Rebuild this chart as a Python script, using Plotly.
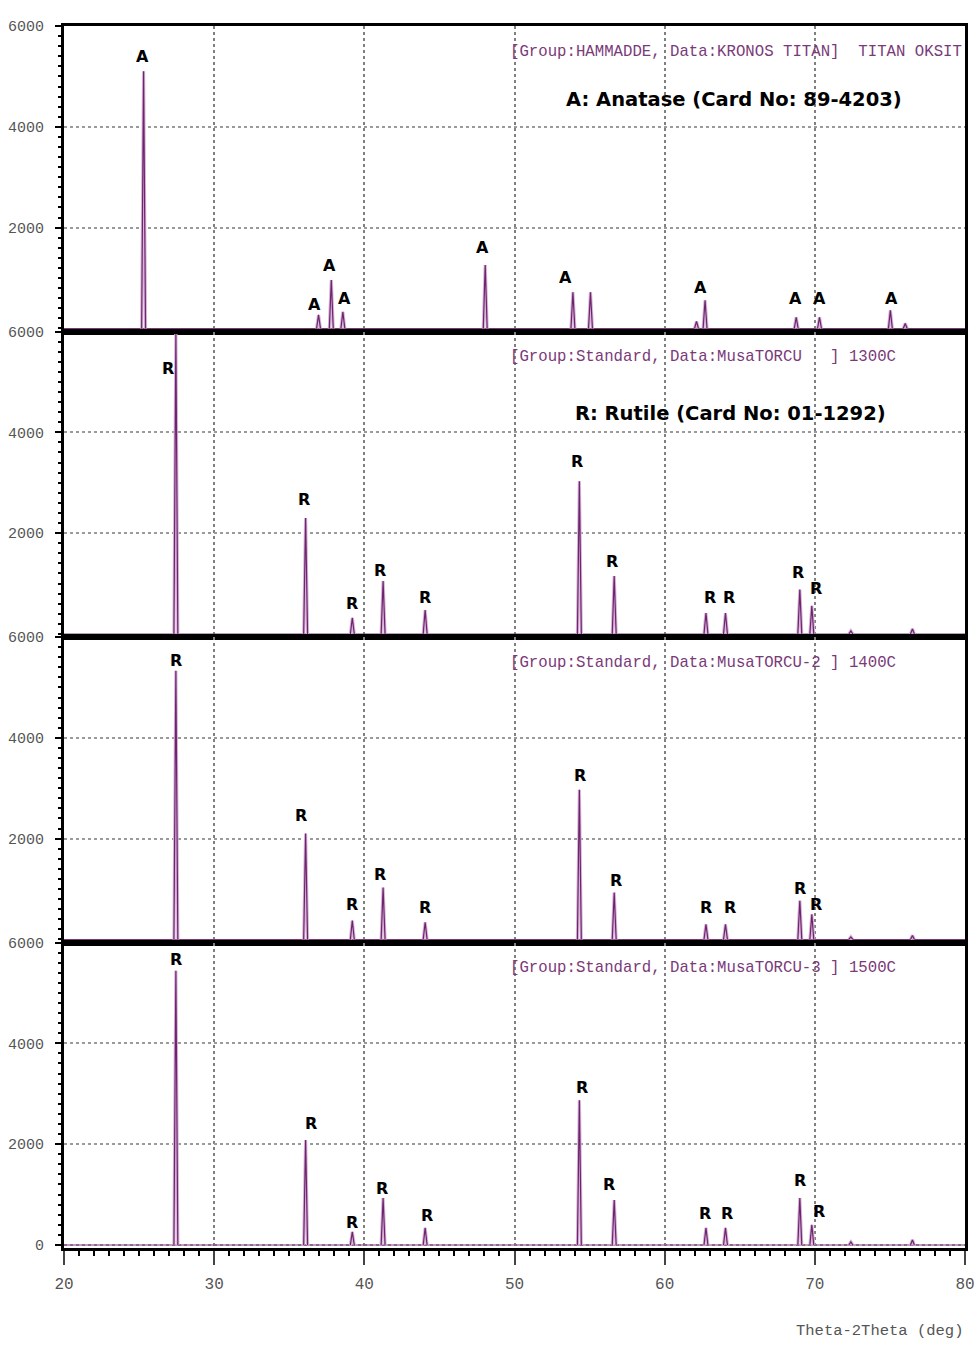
import plotly.graph_objects as go
from plotly.subplots import make_subplots

# ---------------- data ----------------
x_range = [20, 80]

panel_titles = [
    "[Group:HAMMADDE, Data:KRONOS TITAN]  TITAN OKSIT",
    "[Group:Standard, Data:MusaTORCU   ] 1300C",
    "[Group:Standard, Data:MusaTORCU-2 ] 1400C",
    "[Group:Standard, Data:MusaTORCU-3 ] 1500C",
]
card_labels = ["A: Anatase (Card No: 89-4203)", "R: Rutile (Card No: 01-1292)"]

# peak positions (2theta, deg) and intensities per panel
anatase_pos = [25.30, 36.95, 37.80, 38.57, 48.05, 53.89, 55.06, 62.12, 62.69, 68.76, 70.31, 75.03, 76.02]
anatase_int = [5100, 270, 960, 330, 1260, 720, 720, 140, 560, 220, 220, 360, 100]

rutile_pos = [27.45, 36.09, 39.20, 41.25, 44.05, 54.32, 56.64, 62.75, 64.05, 69.00, 69.80, 72.40, 76.50]
rutile_1300 = [5950, 2300, 320, 1050, 475, 3030, 1150, 415, 415, 880, 560, 60, 100]
rutile_1400 = [5330, 2100, 375, 1030, 340, 2970, 930, 300, 300, 770, 500, 50, 80]
rutile_1500 = [5440, 2080, 260, 930, 340, 2870, 890, 340, 340, 930, 400, 60, 100]

# phase-marker letters: (2theta, intensity) of label centre
labels_1 = [(25.26, 5400), (36.71, 480), (37.71, 1240), (38.71, 600), (47.90, 1600),
            (53.42, 1020), (62.41, 820), (68.74, 600), (70.33, 600), (75.13, 600)]
labels_2 = [(26.92, 5270), (35.98, 2670), (39.17, 600), (41.04, 1250), (44.03, 730),
            (54.15, 3420), (56.48, 1440), (63.01, 730), (64.27, 730), (68.87, 1210), (70.07, 910)]
labels_3 = [(27.46, 5540), (35.78, 2450), (39.17, 690), (41.04, 1290), (44.03, 630),
            (54.35, 3250), (56.75, 1170), (62.74, 630), (64.34, 630), (69.00, 1010), (70.07, 690)]
labels_4 = [(27.46, 5660), (36.44, 2400), (39.17, 455), (41.17, 1130), (44.17, 590),
            (54.49, 3130), (56.28, 1190), (62.68, 630), (64.14, 630), (69.00, 1270), (70.27, 670)]

panels = [
    (anatase_pos, anatase_int, "A", labels_1),
    (rutile_pos, rutile_1300, "R", labels_2),
    (rutile_pos, rutile_1400, "R", labels_3),
    (rutile_pos, rutile_1500, "R", labels_4),
]

y_ticks_upper = [2000, 4000, 6000]
y_ticks_bottom = [0, 2000, 4000, 6000]
x_ticks = [20, 30, 40, 50, 60, 70, 80]

# ---------------- figure ----------------
fig = make_subplots(rows=4, cols=1, shared_xaxes=True, vertical_spacing=0)

HALF = 0.13  # half-width of drawn peak (deg)


def profile(pos, inten):
    xs, ys = [], []
    for p, h in sorted(zip(pos, inten)):
        xs += [p - HALF, p, p + HALF, None]
        ys += [0, h, 0, None]
    return xs, ys


for i, (pos, inten, letter, labs) in enumerate(panels, start=1):
    xs, ys = profile(pos, inten)
    fig.add_trace(go.Scatter(x=x_range, y=[0, 0], mode="lines",
                             line=dict(color="#7a3a7a", width=1.2),
                             hoverinfo="skip", showlegend=False), row=i, col=1)
    fig.add_trace(go.Scatter(x=xs, y=ys, mode="lines",
                             line=dict(color="#d7b5d7", width=3.2),
                             hoverinfo="skip", showlegend=False), row=i, col=1)
    fig.add_trace(go.Scatter(x=xs, y=ys, mode="lines",
                             line=dict(color="#6e246e", width=1.2),
                             showlegend=False), row=i, col=1)
    for lx, ly in labs:
        fig.add_annotation(x=lx, y=ly, text="<b>%s</b>" % letter, showarrow=False,
                           font=dict(family="DejaVu Sans", size=16, color="black"),
                           xanchor="center", yanchor="middle", row=i, col=1)
    yref = "y domain" if i == 1 else "y%d domain" % i
    xref = "x" if i == 1 else "x%d" % i
    fig.add_annotation(x=49.6, y=0.915, xref=xref, yref=yref, text=panel_titles[i - 1],
                       showarrow=False, xanchor="left", yanchor="middle",
                       font=dict(family="Liberation Mono", size=15.7, color="#7a3a7a"))

fig.add_annotation(x=64.6, y=0.76, xref="x", yref="y domain", text="<b>%s</b>" % card_labels[0],
                   showarrow=False, xanchor="center", yanchor="middle",
                   font=dict(family="DejaVu Sans", size=19.5, color="black"))
fig.add_annotation(x=64.4, y=0.73, xref="x2", yref="y2 domain", text="<b>%s</b>" % card_labels[1],
                   showarrow=False, xanchor="center", yanchor="middle",
                   font=dict(family="DejaVu Sans", size=19.5, color="black"))

fig.add_annotation(x=1.0, y=-0.068, xref="paper", yref="paper", text="Theta-2Theta (deg)",
                   showarrow=False, xanchor="right", yanchor="middle",
                   font=dict(family="Liberation Mono", size=15.5, color="#555555"))

tick_font = dict(family="Liberation Mono", size=15, color="#555555")

for i in range(1, 5):
    fig.update_yaxes(range=[-60, 6000], tickvals=y_ticks_bottom if i == 4 else y_ticks_upper,
                     ticktext=[str(v) for v in (y_ticks_bottom if i == 4 else y_ticks_upper)],
                     showline=True, linecolor="black", linewidth=3, mirror=True,
                     ticks="outside", ticklen=6, tickcolor="black", tickwidth=2,
                     ticklabelstandoff=8, automargin=False,
                     minor=dict(dtick=200, ticks="outside", ticklen=3, tickcolor="black", tickwidth=2),
                     showgrid=True, gridcolor="#9a9a9a", gridwidth=1.5, griddash="dot",
                     zeroline=False, tickfont=tick_font, row=i, col=1)
    fig.update_xaxes(range=x_range, tickvals=x_ticks, automargin=False,
                     showline=True, linecolor="black", linewidth=3, mirror=True,
                     showgrid=True, gridcolor="#808080", gridwidth=2, griddash="dot",
                     zeroline=False, row=i, col=1)

fig.update_xaxes(ticks="outside", ticklen=14, tickcolor="#444", tickwidth=1.5,
                 minor=dict(dtick=1, ticks="outside", ticklen=5, tickcolor="black", tickwidth=1.5),
                 showticklabels=True, ticktext=[str(v) for v in x_ticks],
                 ticklabelstandoff=5, tickfont=dict(family="Liberation Mono", size=16, color="#555555"),
                 row=4, col=1)

fig.update_layout(width=979, height=1347, plot_bgcolor="white", paper_bgcolor="white",
                  margin=dict(l=64, r=14, t=26, b=99), showlegend=False)

# remove the default page margin so the figure fills the window exactly
fig.write_html("out.html", config={"displayModeBar": False},
               post_script="document.body.style.margin='0';document.body.style.overflow='hidden';")
